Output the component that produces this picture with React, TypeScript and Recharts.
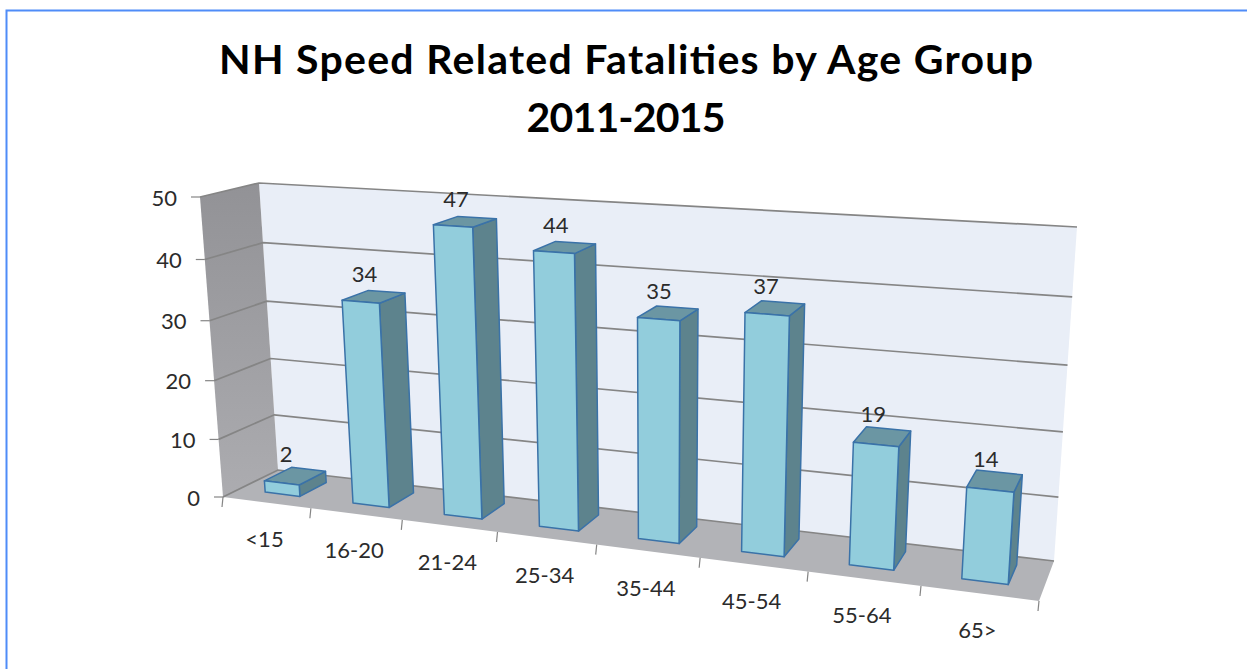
import React from 'react';
import { BarChart, Bar, XAxis, YAxis, CartesianGrid, LabelList } from 'recharts';

const ageGroups = ['<15', '16-20', '21-24', '25-34', '35-44', '45-54', '55-64', '65>'];
const fatalities = [2, 34, 47, 44, 35, 37, 19, 14];
const valueTicks = [0, 10, 20, 30, 40, 50];

const chartData = ageGroups.map((group, i) => ({ group, fatalities: fatalities[i] }));

const WIDTH = 1247;
const HEIGHT = 669;

// flat plot rectangle the scales work in, before it is projected
const PLOT = { left: 100, top: 100, width: 800, height: 400 };

type Pt = [number, number];

// Unit square to quadrilateral homography. Corners: (0,0) (1,0) (1,1) (0,1)
function quadMap(p0: Pt, p1: Pt, p2: Pt, p3: Pt) {
  const dx1 = p1[0] - p2[0];
  const dx2 = p3[0] - p2[0];
  const sx = p0[0] - p1[0] + p2[0] - p3[0];
  const dy1 = p1[1] - p2[1];
  const dy2 = p3[1] - p2[1];
  const sy = p0[1] - p1[1] + p2[1] - p3[1];
  const det = dx1 * dy2 - dx2 * dy1;
  const g = (sx * dy2 - dx2 * sy) / det;
  const h = (dx1 * sy - sx * dy1) / det;
  const a = p1[0] - p0[0] + g * p1[0];
  const b = p3[0] - p0[0] + h * p3[0];
  const d = p1[1] - p0[1] + g * p1[1];
  const e = p3[1] - p0[1] + h * p3[1];
  return (u: number, v: number): Pt => {
    const w = g * u + h * v + 1;
    return [(a * u + b * v + p0[0]) / w, (d * u + e * v + p0[1]) / w];
  };
}

const frontPlane = quadMap([223, 497], [1039, 601], [1063, 249], [200, 197]);
const backPlane = quadMap([278, 470], [1054, 561], [1077, 227], [259, 183]);

// u along the categories, v up the value axis, depth 0 at the front and 1 at the wall
function project(u: number, v: number, depth: number): Pt {
  const f = frontPlane(u, v);
  const b = backPlane(u, v);
  return [f[0] + (b[0] - f[0]) * depth, f[1] + (b[1] - f[1]) * depth];
}

const toU = (x: number) => (x - PLOT.left) / PLOT.width;
const toV = (y: number) => (PLOT.top + PLOT.height - y) / PLOT.height;
const pts = (list: Pt[]) => list.map((p) => `${p[0].toFixed(1)},${p[1].toFixed(1)}`).join(' ');

const BAR_FRONT = 0.3;
const BAR_BACK = 0.8;
const EDGE = '#3a72a8';
const GRID = '#858585';
const TEXT = '#2b2b2b';
const LABEL_FONT = 'Lato, sans-serif';
const LABEL_SIZE = 22;

function Bar3D(props: any) {
  const { x, y, width, height } = props;
  const u0 = toU(x);
  const u1 = toU(x + width);
  const vTop = toV(y);
  const vBase = toV(y + height);
  const side = [project(u1, vBase, BAR_FRONT), project(u1, vBase, BAR_BACK), project(u1, vTop, BAR_BACK), project(u1, vTop, BAR_FRONT)];
  const top = [project(u0, vTop, BAR_FRONT), project(u1, vTop, BAR_FRONT), project(u1, vTop, BAR_BACK), project(u0, vTop, BAR_BACK)];
  const front = [project(u0, vBase, BAR_FRONT), project(u1, vBase, BAR_FRONT), project(u1, vTop, BAR_FRONT), project(u0, vTop, BAR_FRONT)];
  return (
    <g stroke={EDGE} strokeWidth={1.5} strokeLinejoin="round">
      <polygon points={pts(side)} fill="#5d838d" />
      <polygon points={pts(top)} fill="#6b96a3" />
      <polygon points={pts(front)} fill="#92cddc" />
    </g>
  );
}

function ValueLabel(props: any) {
  const { x, y, width, value } = props;
  const [px, py] = project(toU(x + width / 2), toV(y), (BAR_FRONT + BAR_BACK) / 2);
  return (
    <text x={px - 9} y={py - 23} textAnchor="middle" dominantBaseline="central" fontFamily={LABEL_FONT} fontSize={LABEL_SIZE} fill={TEXT}>
      {value}
    </text>
  );
}

function AgeTick(props: any) {
  const { x, payload, index } = props;
  const step = PLOT.width / ageGroups.length;
  const u = toU(x);
  const start = project(u - step / 2 / PLOT.width, 0, 0);
  const end = project(u + step / 2 / PLOT.width, 0, 0);
  const mid = project(u, 0, 0);
  return (
    <g>
      <line x1={start[0]} y1={start[1]} x2={start[0] - 1} y2={start[1] + 10} stroke={GRID} strokeWidth={1.2} />
      {index === ageGroups.length - 1 && (
        <line x1={end[0]} y1={end[1]} x2={end[0] - 1} y2={end[1] + 10} stroke={GRID} strokeWidth={1.2} />
      )}
      <text x={mid[0] - 2} y={mid[1] + 36} textAnchor="middle" dominantBaseline="central" fontFamily={LABEL_FONT} fontSize={LABEL_SIZE} fill={TEXT}>
        {payload.value}
      </text>
    </g>
  );
}

function ValueTick(props: any) {
  const { y, payload } = props;
  const [px, py] = project(0, toV(y), 0);
  return (
    <g>
      <line x1={px - 9} y1={py} x2={px} y2={py} stroke={GRID} strokeWidth={1.2} />
      <text x={px - 23} y={py} textAnchor="end" dominantBaseline="central" fontFamily={LABEL_FONT} fontSize={LABEL_SIZE} fill={TEXT}>
        {payload.value}
      </text>
    </g>
  );
}

// gridline runs across the side wall and then along the back wall
function WallLine(props: any) {
  const v = toV(props.y1);
  const a = project(0, v, 0);
  const b = project(0, v, 1);
  const c = project(1, v, 1);
  return <polyline key={props.y1} points={pts([a, b, c])} fill="none" stroke={GRID} strokeWidth={1.7} />;
}

function Backdrop() {
  return (
    <svg width={WIDTH} height={HEIGHT} style={{ position: 'absolute', left: 0, top: 0 }}>
      <defs>
        <linearGradient id="sideWall" x1="0" y1="0" x2="0" y2="1">
          <stop offset="0%" stopColor="#929296" />
          <stop offset="100%" stopColor="#acacb0" />
        </linearGradient>
      </defs>
      <polyline points={`6.5,${HEIGHT} 6.5,10.5 ${WIDTH},10.5`} fill="none" stroke="#4f8cf8" strokeWidth={2} />
      <g fontFamily="Lato, sans-serif" fontWeight={700} fontSize={41} fill="#000" textAnchor="middle">
        <text x={626} y={74} textLength={814}>NH Speed Related Fatalities by Age Group</text>
        <text x={626} y={132} textLength={199}>2011-2015</text>
      </g>
      <polygon points={pts([project(0, 0, 1), project(1, 0, 1), project(1, 1, 1), project(0, 1, 1)])} fill="#e9eef7" />
      <polygon points={pts([project(0, 0, 0), project(0, 0, 1), project(0, 1, 1), project(0, 1, 0)])} fill="url(#sideWall)" />
      <polygon points={pts([project(0, 0, 0), project(1, 0, 0), project(1, 0, 1), project(0, 0, 1)])} fill="#b2b3b7" />
    </svg>
  );
}

export default function App() {
  return (
    <div style={{ position: 'absolute', left: 0, top: 0, width: WIDTH, height: HEIGHT, overflow: 'hidden', background: '#fff' }}>
      <Backdrop />
      <div style={{ position: 'absolute', left: 0, top: 0 }}>
        <BarChart
          width={WIDTH}
          height={HEIGHT}
          data={chartData}
          barCategoryGap="30%"
          margin={{ top: PLOT.top, left: 40, right: WIDTH - PLOT.left - PLOT.width, bottom: 139 }}
        >
          <CartesianGrid horizontal={WallLine} vertical={false} />
          <XAxis dataKey="group" height={30} interval={0} axisLine={false} tickLine={false} tick={AgeTick} />
          <YAxis width={60} domain={[0, 50]} ticks={valueTicks} interval={0} axisLine={false} tickLine={false} tick={ValueTick} />
          <Bar dataKey="fatalities" shape={Bar3D} isAnimationActive={false}>
            <LabelList dataKey="fatalities" content={ValueLabel} />
          </Bar>
        </BarChart>
      </div>
    </div>
  );
}
